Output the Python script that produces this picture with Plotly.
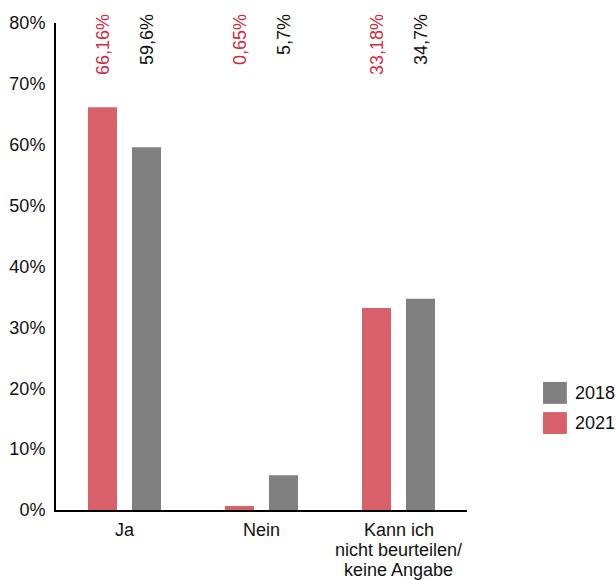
import plotly.graph_objects as go

categories = ["Ja", "Nein", "Kann ich nicht beurteilen/ keine Angabe"]
category_lines = [["Ja"], ["Nein"], ["Kann ich", "nicht beurteilen/", "keine Angabe"]]
values_2021 = [66.16, 0.65, 33.18]
values_2018 = [59.6, 5.7, 34.7]
labels_2021 = ["66,16%", "0,65%", "33,18%"]
labels_2018 = ["59,6%", "5,7%", "34,7%"]
series_names = ["2021", "2018"]
tick_vals = [0, 10, 20, 30, 40, 50, 60, 70, 80]
tick_text = ["0%", "10%", "20%", "30%", "40%", "50%", "60%", "70%", "80%"]

RED = "#d8606a"
GRAY = "#808080"
RED_TEXT = "#d42a3c"
INK = "#111111"
FONT = "Liberation Sans, Arial, sans-serif"
FS = 18

fig = go.Figure()
fig.add_trace(go.Bar(x=categories, y=values_2021, name=series_names[0],
                     marker=dict(color=RED, line=dict(width=0))))
fig.add_trace(go.Bar(x=categories, y=values_2018, name=series_names[1],
                     marker=dict(color=GRAY, line=dict(width=0))))

annotations = []
# value labels above the plot, rotated, one per bar
for i, cat in enumerate(categories):
    for lbl, shift, col in ((labels_2021[i], -22, RED_TEXT), (labels_2018[i], 22, INK)):
        annotations.append(dict(
            x=cat, xref="x", y=1, yref="paper", yshift=11,
            xshift=shift, text=lbl, textangle=-90, showarrow=False,
            xanchor="center", yanchor="top",
            font=dict(family=FONT, size=FS, color=col)))

# category labels under the axis, with tighter line spacing than <br> gives
for cat, lines in zip(categories, category_lines):
    for k, line in enumerate(lines):
        annotations.append(dict(
            x=cat, xref="x", y=0, yref="paper", yshift=-20 - 20 * k,
            text=line, showarrow=False, xanchor="center", yanchor="middle",
            font=dict(family=FONT, size=FS, color=INK)))

# legend drawn as square swatches on the right
shapes = []
legend_rows = [(series_names[1], GRAY, 0.263), (series_names[0], RED, 0.201)]
for name, col, ytop in legend_rows:
    shapes.append(dict(type="rect", xref="paper", yref="paper",
                       x0=1.185, x1=1.243, y0=ytop - 0.045, y1=ytop,
                       fillcolor=col, line=dict(width=0)))
    annotations.append(dict(x=1.258, y=ytop - 0.0225, xref="paper", yref="paper",
                            text=name, showarrow=False, xanchor="left", yanchor="middle",
                            font=dict(family=FONT, size=FS, color=INK)))

fig.update_layout(
    width=616, height=580,
    margin=dict(l=56, r=149, t=23, b=70),
    paper_bgcolor="white", plot_bgcolor="white",
    barmode="group", bargap=0.358, bargroupgap=0.34,
    showlegend=False,
    font=dict(family=FONT, size=FS, color=INK),
    annotations=annotations, shapes=shapes,
    xaxis=dict(showline=True, linecolor="black", linewidth=2, ticks="",
               showgrid=False, zeroline=False, automargin=False,
               showticklabels=False),
    yaxis=dict(range=[0, 80], tickvals=tick_vals, ticktext=tick_text,
               showline=True, linecolor="black", linewidth=2, ticks="",
               showgrid=False, zeroline=False, automargin=False,
               ticklabelstandoff=5,
               tickfont=dict(family=FONT, size=FS, color=INK)),
)

fig.write_html("out.html")
